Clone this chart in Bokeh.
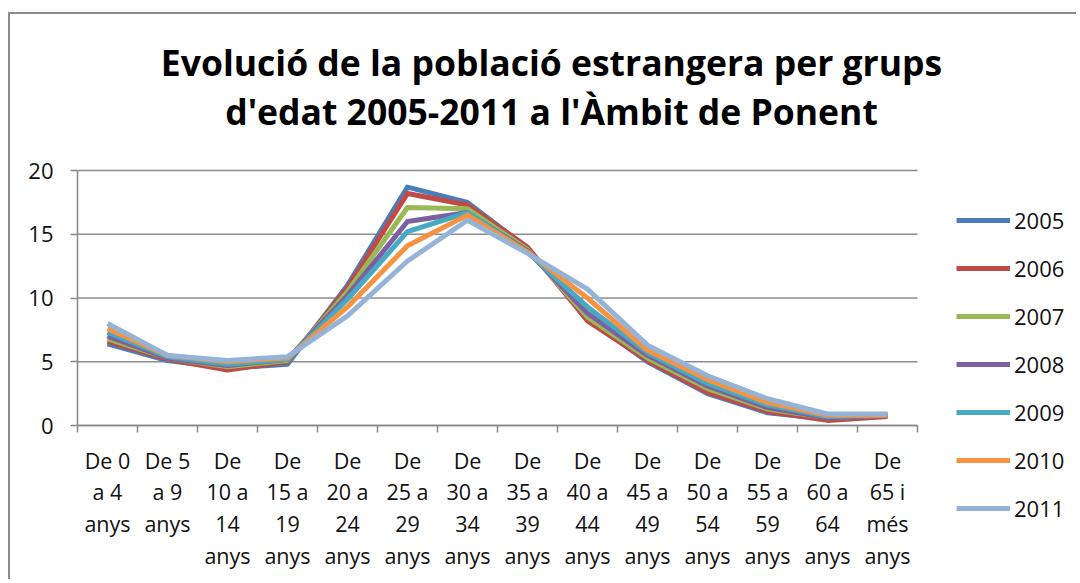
from bokeh.plotting import figure
from bokeh.models import FixedTicker, Legend, LegendItem, Label, Range1d
from bokeh.embed import file_html
from bokeh.resources import INLINE

categories = ["De 0\na 4\nanys", "De 5\na 9\nanys", "De\n10 a\n14\nanys", "De\n15 a\n19\nanys",
              "De\n20 a\n24\nanys", "De\n25 a\n29\nanys", "De\n30 a\n34\nanys", "De\n35 a\n39\nanys",
              "De\n40 a\n44\nanys", "De\n45 a\n49\nanys", "De\n50 a\n54\nanys", "De\n55 a\n59\nanys",
              "De\n60 a\n64\nanys", "De\n65 i\nmés\nanys"]
years = ["2005", "2006", "2007", "2008", "2009", "2010", "2011"]
y2005 = [6.4, 5.1, 4.5, 4.8, 11.0, 18.7, 17.5, 13.9, 8.4, 5.0, 2.5, 1.0, 0.5, 0.8]
y2006 = [6.6, 5.2, 4.35, 5.0, 10.8, 18.2, 17.3, 14.0, 8.2, 5.1, 2.6, 1.1, 0.4, 0.7]
y2007 = [6.8, 5.3, 4.6, 5.1, 10.5, 17.1, 17.0, 13.8, 8.5, 5.3, 2.9, 1.3, 0.6, 0.8]
y2008 = [7.0, 5.3, 4.7, 5.2, 10.2, 16.0, 16.7, 13.7, 8.8, 5.5, 3.1, 1.4, 0.6, 0.8]
y2009 = [7.3, 5.4, 4.8, 5.2, 9.9, 15.2, 16.7, 13.6, 9.3, 5.7, 3.3, 1.6, 0.7, 0.8]
y2010 = [7.6, 5.5, 5.0, 5.3, 9.3, 14.1, 16.5, 13.6, 10.0, 5.9, 3.6, 1.8, 0.8, 0.8]
y2011 = [8.0, 5.5, 5.1, 5.4, 8.6, 12.9, 16.1, 13.5, 10.7, 6.3, 3.9, 2.1, 0.9, 0.9]
series = [y2005, y2006, y2007, y2008, y2009, y2010, y2011]
colors = ["#4A7EBB", "#BE4B48", "#98B954", "#7D60A0", "#46AAC5", "#F69240", "#95B3D7"]
y_ticks = [0, 5, 10, 15, 20]
title_lines = ["Evolució de la població estrangera per grups", "d'edat 2005-2011 a l'Àmbit de Ponent"]

FONT = "Open Sans"
W, H = 1068, 567
# geometry of the plotting area inside the canvas (pixels)
LEFT, TOP, BOTTOM, CAT_W = 67, 156, 411, 60
n = len(categories)
ymax = y_ticks[-1]
ppu = (BOTTOM - TOP) / ymax
x_rng = Range1d(-LEFT / CAT_W, (W - LEFT) / CAT_W)
y_rng = Range1d(-(H - BOTTOM) / ppu, ymax + TOP / ppu)

p = figure(width=W, height=H, output_backend="svg", toolbar_location=None,
           x_range=x_rng, y_range=y_rng, min_border=0,
           min_border_left=0, min_border_right=0, min_border_top=0, min_border_bottom=0,
           styles={"border-left": "2px solid #8c8c8c", "border-top": "2px solid #8c8c8c",
                   "margin-left": "8px", "margin-top": "12px"})
p.title.visible = False
p.outline_line_color = None
p.background_fill_color = "white"
p.border_fill_color = "white"
p.xgrid.visible = False
p.ygrid.visible = False

# horizontal gridlines limited to the category span
p.segment(x0=[0] * len(y_ticks), x1=[n] * len(y_ticks), y0=y_ticks, y1=y_ticks,
          line_color="#8c8c8c", line_width=1.5)

xs = [i + 0.5 for i in range(n)]
renderers = []
for yr, ys, c in zip(years, series, colors):
    r = p.line(xs, ys, line_color=c, line_width=5, line_join="round")
    renderers.append(r)

# x axis
xa = p.xaxis[0]
xa.fixed_location = 0
xa.bounds = (0, n)
xa.ticker = FixedTicker(ticks=xs, minor_ticks=list(range(n + 1)))
xa.major_label_overrides = {x: c for x, c in zip(xs, categories)}
xa.major_tick_out = 0
xa.major_tick_in = 0
xa.minor_tick_out = 7
xa.minor_tick_in = 0
xa.minor_tick_line_color = "#868686"
xa.minor_tick_line_width = 1.5
xa.axis_line_color = "#868686"
xa.axis_line_width = 1.5
xa.major_label_text_font = FONT
xa.major_label_text_font_size = "21.5px"
xa.major_label_text_color = "#111111"
xa.major_label_text_line_height = 1.1
xa.major_label_standoff = 13
xa.major_label_orientation = "horizontal"

# y axis
ya = p.yaxis[0]
ya.fixed_location = 0
ya.bounds = (0, ymax)
ya.ticker = FixedTicker(ticks=y_ticks)
ya.major_tick_out = 7
ya.major_tick_in = 0
ya.minor_tick_out = 0
ya.minor_tick_in = 0
ya.major_tick_line_color = "#868686"
ya.major_tick_line_width = 1.5
ya.axis_line_color = "#868686"
ya.axis_line_width = 1.5
ya.major_label_text_font = FONT
ya.major_label_text_font_size = "22px"
ya.major_label_text_color = "#111111"
ya.major_label_standoff = 17

# title
for txt, yy in zip(title_lines, [520, 471]):
    p.add_layout(Label(x=541, y=yy, x_units="screen", y_units="screen", text=txt,
                       text_font=FONT, text_font_style="bold", text_font_size="35.5px",
                       text_align="center", text_baseline="middle", text_color="#000000"))

legend = Legend(items=[LegendItem(label=yr, renderers=[r]) for yr, r in zip(years, renderers)],
                location=(946, 58), orientation="vertical",
                glyph_width=54, glyph_height=24, spacing=18, padding=0, margin=0,
                label_standoff=4, label_text_font=FONT, label_text_font_size="22px",
                label_text_color="#111111", label_height=24,
                border_line_color=None, background_fill_alpha=0)
p.add_layout(legend, "center")

open("out.html", "w").write(file_html(p, INLINE))
